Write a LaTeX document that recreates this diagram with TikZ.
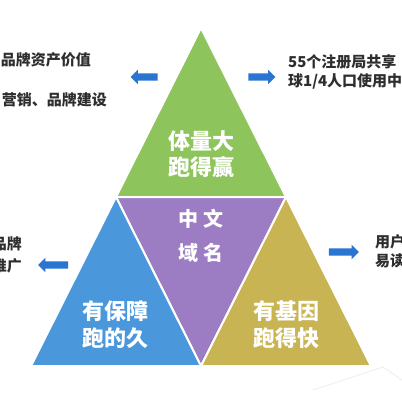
\documentclass[tikz,border=0pt]{standalone}
\usepackage{fontspec}
\newfontfamily\cjk{Noto Sans CJK SC}
\usetikzlibrary{shapes.arrows}
\definecolor{tgreen}{HTML}{8DC45B}
\definecolor{tpurple}{HTML}{9C7CC2}
\definecolor{tblue}{HTML}{4A97DC}
\definecolor{tolive}{HTML}{C9B454}
\definecolor{arrowblue}{HTML}{2A74D2}
\definecolor{sidetext}{HTML}{2E2E2E}
\tikzset{
  piece/.style={draw=white, line width=2pt, line join=miter},
  intext/.style={text=white, font=\cjk\bfseries\fontsize{22}{22}\selectfont, inner sep=0pt},
  sidelbl/.style={text=sidetext, font=\cjk\bfseries\fontsize{15}{15}\selectfont, inner sep=0pt},
  blockarrow/.style={single arrow, fill=arrowblue, draw=none, minimum height=27pt,
    minimum width=14pt, single arrow head extend=3.5pt, single arrow head indent=0pt,
    inner xsep=0pt, inner ysep=3.5pt},
}
\begin{document}
\begin{tikzpicture}[x=1pt,y=-1pt]
\useasboundingbox (0,0) rectangle (402,402);
\clip (0,0) rectangle (402,402);
\fill[white] (0,0) rectangle (402,402);
% faint background decoration
\draw[color=gray!12, line width=1pt] (313,390) -- (383,367) -- (402,380);
% triangle corners
\coordinate (A) at (201,28);
\coordinate (L) at (116,197);
\coordinate (R) at (286,197);
\coordinate (BL) at (31,366);
\coordinate (BM) at (201,366);
\coordinate (BR) at (371,366);
\filldraw[piece, fill=tgreen] (A) -- (L) -- (R) -- cycle;
\filldraw[piece, fill=tpurple] (L) -- (R) -- (BM) -- cycle;
\filldraw[piece, fill=tblue] (L) -- (BL) -- (BM) -- cycle;
\filldraw[piece, fill=tolive] (R) -- (BM) -- (BR) -- cycle;
% triangle texts
\node[intext] (t1) at (201,141) {体量大};
\node[intext] (t2) at (201,167) {跑得赢};
\node[intext, font=\cjk\bfseries\fontsize{20}{20}\selectfont] (m1) at (201,219) {中\hspace{5pt}文};
\node[intext, font=\cjk\bfseries\fontsize{20}{20}\selectfont] (m2) at (201,253) {域\hspace{5pt}名};
\node[intext] (l1) at (115,311) {有保障};
\node[intext] (l2) at (115,338) {跑的久};
\node[intext] (r1) at (286,311) {有基因};
\node[intext] (r2) at (286,338) {跑得快};
% side texts
\node[sidelbl, anchor=east] (s1) at (91,60) {品牌资产价值};
\node[sidelbl, anchor=east] (s2) at (107,100) {营销、品牌建设};
\node[sidelbl, anchor=west] (s3) at (288,62) {55个注册局共享};
\node[sidelbl, anchor=west] (s4) at (288,81) {球1/4人口使用中};
\node[sidelbl, anchor=east] (s5) at (22,244) {品牌};
\node[sidelbl, anchor=east] (s6) at (22,266) {推广};
\node[sidelbl, anchor=west] (s7) at (375,242) {用户};
\node[sidelbl, anchor=west] (s8) at (375,261) {易读};
% arrows
\node[blockarrow, shape border rotate=180] (a1) at (146,77) {};
\node[blockarrow] (a2) at (260,77) {};
\node[blockarrow, shape border rotate=180, minimum height=30pt] (a3) at (55,265) {};
\node[blockarrow, minimum height=30pt] (a4) at (342,252) {};
\end{tikzpicture}
\end{document}
